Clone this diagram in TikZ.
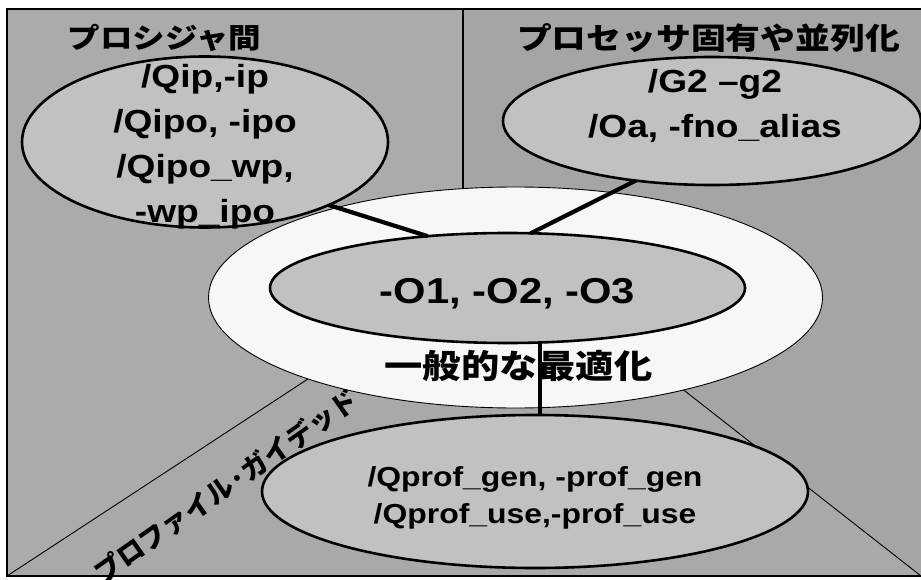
\documentclass[tikz,border=0pt]{standalone}
\usepackage{fontspec}
\setmainfont{Liberation Sans}[FakeStretch=1.16]
\newfontfamily\cjk{Noto Sans CJK JP}[FakeStretch=1.16]
\newfontfamily\cjkrot{Noto Sans CJK JP}
\usetikzlibrary{shapes.geometric}
\definecolor{bgleft}{HTML}{ABABAB}
\definecolor{bgright}{HTML}{A5A5A5}
\definecolor{bgbottom}{HTML}{A9A9A9}
\definecolor{ellfill}{HTML}{C1C1C1}
\definecolor{ringfill}{HTML}{F7F7F7}
\tikzset{
  oval/.style={ellipse, draw=black, line width=2.6pt, fill=ellfill, inner sep=0pt, outer sep=0pt},
  conn/.style={line width=4.2pt, draw=black},
  opt/.style={align=center, inner sep=0pt, font=\bfseries\fontsize{32}{45}\selectfont},
  title/.style={inner sep=0pt, font=\cjk\bfseries\fontsize{28}{30}\selectfont},
}
\begin{document}
\begin{tikzpicture}[x=1pt,y=-1pt]
\useasboundingbox (0,0) rectangle (921,580);
\fill[white] (0,0) rectangle (921,580);
% background regions
\coordinate (M) at (505,250);
\fill[bgleft] (7,9) -- (463,9) -- (463,250) -- (M) -- (7,576) -- cycle;
\fill[bgright] (463,9) -- (921,9) -- (921,576) -- (M) -- (463,250) -- cycle;
\fill[bgbottom] (7,576) -- (M) -- (921,576) -- cycle;
\draw[line width=1.2pt] (463,9) -- (463,250);
\draw[line width=0.9pt] (7,576) -- (M);
\draw[line width=0.9pt] (921,576) -- (M);
\draw[line width=1.4pt] (921,9) -- (7,9) -- (7,576) -- (921,576);
% ring and ellipses
\node[ellipse, draw=black, line width=0.9pt, fill=ringfill, inner sep=0pt, outer sep=0pt,
      minimum width=614pt, minimum height=221pt] (ring) at (515.5,297.5) {};
\node[oval, minimum width=475pt, minimum height=110pt] (inner) at (507.5,288) {};
\node[oval, minimum width=366pt, minimum height=171pt] (tl) at (205,142) {};
\node[oval, minimum width=418pt, minimum height=128pt] (tr) at (712,121) {};
\node[oval, minimum width=546pt, minimum height=153pt] (bot) at (535,491.5) {};
% connectors
\draw[conn] (tl.-27.1) -- (inner.147.8);
\draw[conn] (tr.-142.5) -- (inner.67.9);
\draw[conn] (inner.-59.2) -- (inner.-59.2 |- bot.north);
% texts
\node[title] (t1) at (164.5,38) {プロシジャ間};
\node[title, font=\cjk\bfseries\fontsize{30}{32}\selectfont] (t2) at (708.5,38) {プロセッサ固有や並列化};
\node[opt] (t3) at (205,147) {/Qip,-ip\\/Qipo, -ipo\\/Qipo\_wp,\\-wp\_ipo};
\node[opt] (t4) at (715,106) {/G2 –g2\\/Oa, -fno\_alias};
\node[opt, font=\bfseries\fontsize{36}{40}\selectfont] (t5) at (507.5,294) {-O1, -O2, -O3};
\node[title, font=\cjk\bfseries\fontsize{33}{35}\selectfont] (t6) at (518.5,366) {一般的な最適化};
\node[opt, font=\bfseries\fontsize{27.5}{37}\selectfont] (t7) at (535,498) {/Qprof\_gen, -prof\_gen\\/Qprof\_use,-prof\_use};
\node[inner sep=0pt, rotate=35, font=\cjkrot\bfseries\fontsize{27}{29}\selectfont] (t8) at (226,486) {プロファイル·ガイデッド};
\end{tikzpicture}
\end{document}
